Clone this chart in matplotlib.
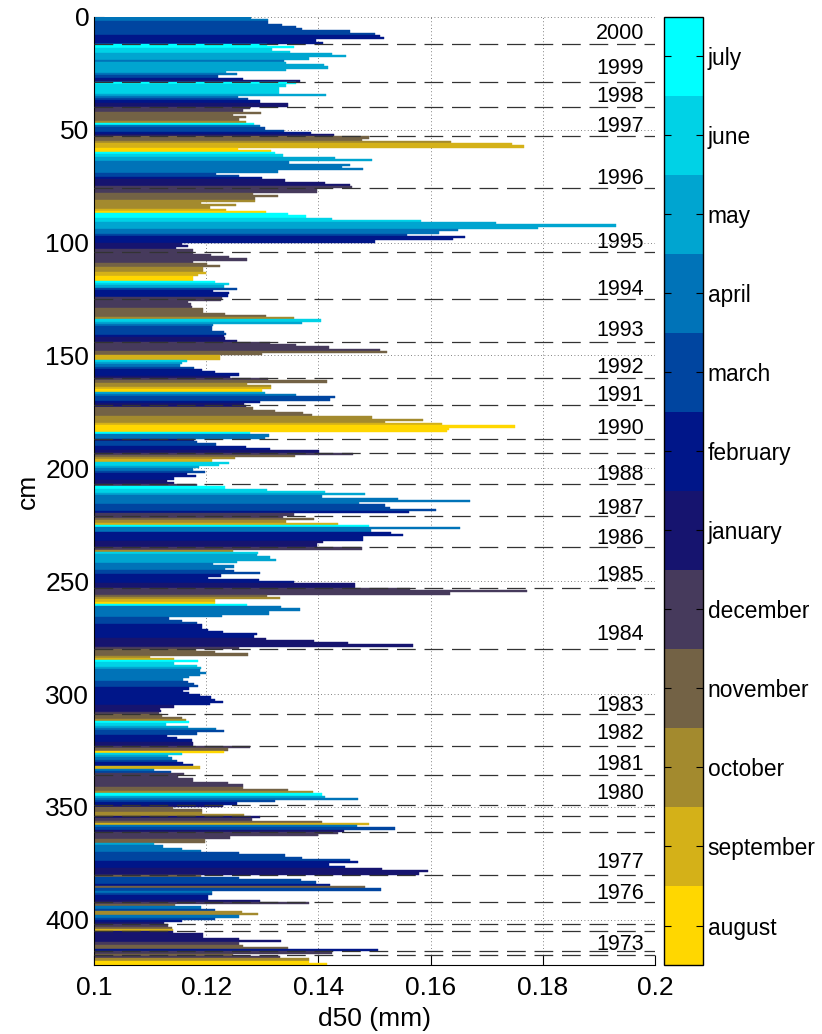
import numpy as np
import matplotlib.pyplot as plt
from matplotlib.colors import ListedColormap, BoundaryNorm

plt.rcParams['font.family'] = ['Liberation Sans', 'DejaVu Sans']

# month index: 0=august ... 11=july
month_names = ['august', 'september', 'october', 'november', 'december', 'january',
               'february', 'march', 'april', 'may', 'june', 'july']
month_colors = ['#FFD700', '#D4B118', '#A38A2E', '#736245', '#463A5C', '#16146F',
                '#001689', '#0045A0', '#0073B8', '#00A5D0', '#00D2E6', '#00FFFF']

# d50 (mm) for each 1 cm slice, from the top (0 cm) down
d50 = [
    # 2000
    .128, .131, .131, .1335, .136, .137, .1457, .150, .1509, .1517, .1396, .1409,
    # 1999
    .1308, .1356, .1317, .1349, .1424, .145, .1384, .1338, .1343, .141, .1417, .1343,
    .1235, .1254, .1221, .1265, .1367,
    # 1998
    .136, .1342, .133, .133, .133, .1414, .1256, .1274, .1296, .1346, .1346,
    # 1997
    .1278, .1266, .1298, .1248, .1271, .1258, .1271, .1285, .1296, .1305, .1339, .1387, .1427,
    # 1996
    .149, .1478, .1637, .1745, .1767, .1256, .1316, .1323, .1337, .1429, .1495, .1348,
    .1457, .1442, .148, .1328, .1218, .1259, .13, .134, .1412, .1457, .1459,
    # 1995
    .1397, .1397, .1283, .1328, .1287, .1287, .1191, .1253, .1206, .1236, .1306, .1345,
    .1377, .1425, .1582, .1716, .193, .1792, .1648, .1614, .1558, .1662, .164, .15,
    .1156, .1168, .1146, .1177,
    # 1994
    .1177, .1208, .124, .1273, .1177, .1201, .1224, .1195, .1195, .12, .1186, .1177,
    .1177, .1215, .124, .1232, .1255, .1212, .1241, .1238, .1228,
    # 1993
    .1226, .1168, .1173, .1175, .1195, .1195, .1234, .1307, .1357, .1404, .137, .1212,
    .121, .121, .1232, .1236, .1232, .1234, .1255,
    # 1992
    .1313, .136, .1418, .1509, .1522, .13, .1225, .1225, .1165, .1157, .1154, .1179,
    .1193, .1216, .1259, .1242,
    # 1991
    .131, .1416, .1272, .1316, .1316, .13, .1305, .136, .1429, .142, .1296, .1267,
    # 1990
    .127, .1284, .1323, .1372, .1388, .1495, .1586, .1519, .1621, .175, .1633, .163,
    .1278, .1311, .1304,
    # 1989
    .1179, .1184, .1217, .1271, .1314, .1401,
    # 1988
    .1461, .1359, .1251, .121, .124, .1222, .1187, .1177, .1198, .1166, .1181, .1143, .113, .1143,
    # 1987
    .1184, .1234, .1309, .1411, .1483, .1406, .1541, .1671, .1473, .1519, .1527, .1609, .1561, .1357,
    # 1986
    .1337, .1392, .1342, .1434, .1491, .1653, .1493, .153, .1551, .148, .148, .1409, .1398, .1397,
    # 1985
    .1478, .1247, .1293, .129, .1314, .1325, .1254, .1212, .1249, .1234, .125, .1295,
    .1227, .1203, .1294, .1356, .1466, .1466,
    # 1984
    .1563, .1771, .1635, .1309, .1331, .1215, .1215, .1272, .1334, .1368, .1311, .1311,
    .1228, .1134, .1157, .1184, .1192, .1192, .1203, .1229, .1291, .1285, .1307, .1392,
    .1452, .1569, .1258,
    # 1983
    .1182, .1215, .1275, .1099, .1142, .1186, .1143, .1183, .119, .1188, .12, .1188,
    .1169, .1158, .1167, .1179, .1186, .1169, .1158, .117, .1189, .1208, .1216, .1229,
    .1206, .1143, .1117, .1119, .1116,
    # 1982
    .1121, .1157, .1164, .117, .1128, .1167, .1218, .1231, .1184, .113, .1147, .1174, .1177, .1177,
    # 1981
    .1278, .1239, .1231, .1157, .1132, .1139, .1147, .1159, .1177, .1189, .1106, .1137, .116,
    # 1980
    .115, .1177, .1177, .1239, .1266, .1265, .1345, .139, .1406, .1411, .1471, .1323, .1254,
    # 1979
    .1229, .114, .1193, .1193, .1268,
    # 1978
    .1296, .1282, .1407, .1491, .1469, .1536, .1445,
    # 1977
    .1435, .14, .1243, .1197, .1197, .1106, .1123, .1157, .1191, .1259, .1341, .1371,
    .1457, .147, .1418, .1448, .1514, .1596, .158,
    # 1976
    .119, .1259, .1369, .1395, .1421, .1483, .1511, .121, .121, .1203, .1203, .1296,
    # 1975
    .1384, .1145, .1191, .1216, .1263, .1293, .1259, .1215, .1156, .1124,
    # 1974
    .1132, .1139, .114,
    # 1973
    .1141, .1195, .1195, .1259, .1333, .1258, .1265, .1345, .1506,
    # bottom
    .1425, .1247, .1331, .1384, .1384, .1416,
]

month = [
    8, 8, 7, 7, 7, 7, 7, 7, 6, 6, 6, 6,
    11, 11, 10, 10, 9, 9, 9, 8, 9, 9, 9, 9, 9, 8, 7, 6, 5,
    11, 10, 10, 10, 10, 9, 8, 7, 6, 5, 5,
    4, 4, 3, 3, 3, 3, 2, 11, 8, 7, 7, 6, 5,
    3, 3, 2, 1, 1, 0, 0, 11, 10, 9, 9, 8, 8, 8, 8, 8, 7, 7, 6, 5, 5, 5, 4,
    4, 4, 3, 3, 3, 2, 2, 2, 2, 1, 0, 11, 11, 10, 10, 9, 9, 9, 8, 8, 7, 6, 6, 6, 5, 5, 5, 4,
    4, 4, 4, 4, 4, 3, 3, 2, 2, 1, 1, 0, 0, 11, 10, 9, 7, 6, 6, 6, 4,
    4, 4, 4, 4, 3, 3, 3, 3, 2, 10, 9, 8, 7, 7, 7, 7, 6, 5, 5,
    4, 4, 4, 4, 3, 3, 1, 1, 10, 9, 8, 7, 6, 6, 6, 5,
    4, 3, 2, 2, 1, 0, 9, 8, 7, 7, 6, 5,
    5, 3, 3, 3, 3, 2, 2, 2, 1, 0, 0, 0, 11, 8, 8,
    5, 7, 7, 6, 6, 5,
    4, 3, 2, 1, 10, 10, 9, 8, 7, 6, 6, 6, 5, 5,
    4, 11, 10, 10, 9, 8, 8, 8, 8, 7, 7, 7, 6, 4,
    4, 3, 2, 1, 11, 8, 8, 6, 6, 6, 6, 5, 5, 5,
    4, 2, 10, 9, 9, 9, 9, 8, 8, 8, 7, 7, 6, 6, 6, 6, 5, 5,
    4, 4, 4, 3, 2, 1, 0, 11, 8, 8, 8, 8, 8, 7, 7, 7, 6, 6, 6, 6, 6, 6, 5, 5, 5, 5, 4,
    3, 3, 3, 2, 1, 11, 10, 10, 9, 8, 8, 8, 8, 8, 7, 7, 7, 6, 6, 6, 6, 6, 6, 6, 6, 5, 5, 5, 4,
    3, 3, 2, 11, 10, 9, 8, 7, 7, 6, 6, 6, 5, 5,
    4, 3, 0, 10, 9, 8, 7, 6, 6, 1, 8, 7, 4,
    4, 4, 4, 4, 4, 3, 3, 2, 11, 9, 8, 7, 6,
    5, 3, 3, 2, 2,
    5, 4, 3, 1, 8, 7, 5,
    4, 4, 4, 3, 3, 9, 8, 8, 8, 7, 7, 7, 7, 6, 6, 6, 5, 5, 5,
    3, 7, 7, 7, 6, 3, 7, 8, 7, 6, 6, 5,
    4, 3, 8, 7, 2, 2, 8, 7, 6, 5,
    4, 3, 1,
    5, 5, 5, 5, 5, 4, 3, 3, 6,
    4, 3, 4, 2, 0, 0,
]

# dashed year boundaries (cm) and year labels
year_breaks = [12, 29, 40, 53, 76, 104, 125, 144, 160, 172, 187, 193, 207, 221, 235,
               253, 280, 309, 323, 336, 349, 354, 361, 380, 392, 402, 405, 414, 415.5]
year_labels = ['2000', '1999', '1998', '1997', '1996', '1995', '1994', '1993', '1992',
               '1991', '1990', '1988', '1987', '1986', '1985', '1984', '1983', '1982',
               '1981', '1980', '1977', '1976', '1973']
label_depth = [7.4, 23, 35.5, 48.5, 71.7, 100, 121, 138.8, 155.4, 167.6, 182.4, 202.6,
               217.8, 231, 247.3, 273.8, 304.9, 317.4, 331.4, 343.9, 374.6, 388.3, 410.7]

fig = plt.figure(figsize=(8.22, 10.34), dpi=100)
ax = fig.add_axes([0.1144, 0.0667, 0.6825, 0.9171])
cax = fig.add_axes([0.8078, 0.0667, 0.0474, 0.9171])

depth = np.arange(len(d50)) + 0.5
cols = [month_colors[m] for m in month]
ax.barh(depth, d50, height=1.0, color=cols, edgecolor=cols, linewidth=0.3, zorder=2)

for yb in year_breaks:
    ax.axhline(yb, color='0.2', lw=0.9, ls=(0, (15, 7)), zorder=3)
for lab, yl in zip(year_labels, label_depth):
    ax.text(0.1895, yl, lab, fontsize=15.5, ha='left', va='center', zorder=4)

ax.set_xlim(0.1, 0.2)
ax.set_ylim(420, 0)
ax.set_xticks([0.1, 0.12, 0.14, 0.16, 0.18, 0.2])
ax.set_xticklabels(['0.1', '0.12', '0.14', '0.16', '0.18', '0.2'])
ax.set_yticks(range(0, 401, 50))
ax.set_axisbelow(True)
ax.grid(True, ls=(0, (1, 3)), color='0.35', lw=0.6)
ax.spines['top'].set_visible(False)
ax.spines['right'].set_visible(False)
ax.tick_params(direction='in', length=7, labelsize=19)
ax.tick_params(axis='x', pad=8)
ax.set_xlabel('d50 (mm)', fontsize=19, labelpad=5)
ax.set_ylabel('cm', fontsize=19)

cmap = ListedColormap(month_colors)
norm = BoundaryNorm(np.arange(13), 12)
cb = fig.colorbar(plt.cm.ScalarMappable(norm=norm, cmap=cmap), cax=cax,
                  ticks=np.arange(12) + 0.5)
cb.set_ticklabels(month_names)
cb.minorticks_off()
cax.tick_params(direction='in', length=5, labelsize=16.4, left=True, right=True)
cb.outline.set_linewidth(1)

fig.savefig('out.png', dpi=100)
